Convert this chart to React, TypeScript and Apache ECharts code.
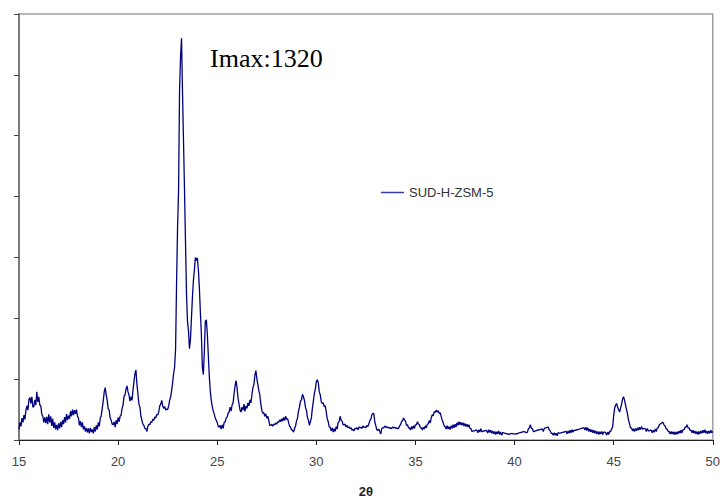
import React, { useEffect, useRef } from "react";
import * as echarts from "echarts";

// Scan settings (2θ start and step of the recorded pattern)
const angleStart = 15;
const angleStep = 0.05;

// Intensity (counts), one row per degree (20 steps of 0.05)
const intensity: number[] = [
  // 15
  35, 58, 45, 72, 58, 82, 68, 98, 112, 98, 132, 140, 120, 142, 108, 110, 132, 115, 158, 125,
  // 16
  142, 115, 112, 85, 78, 58, 74, 55, 76, 52, 84, 58, 78, 46, 70, 40, 58, 35, 50, 32,
  // 17
  55, 38, 60, 42, 65, 52, 75, 58, 85, 65, 80, 70, 95, 78, 100, 82, 98, 86, 100, 78,
  // 18
  72, 48, 62, 42, 58, 35, 45, 28, 40, 25, 38, 22, 40, 26, 35, 22, 42, 28, 48, 35,
  // 19
  58, 45, 72, 80, 104, 128, 158, 172, 148, 130, 102, 98, 72, 65, 52, 50, 60, 42, 65, 52,
  // 20
  74, 60, 78, 82, 104, 115, 144, 148, 168, 178, 158, 148, 128, 142, 130, 164, 192, 218, 230, 182,
  // 21
  152, 118, 108, 78, 65, 52, 48, 38, 37, 28, 45, 52, 50, 60, 58, 68, 65, 76, 72, 84,
  // 22
  82, 92, 112, 118, 130, 112, 104, 110, 98, 102, 100, 112, 130, 142, 162, 188, 218, 240, 300, 520,
  // 23
  700, 820, 1150, 1260, 1320, 1140, 980, 820, 650, 480, 390, 360, 300, 330, 400, 470, 525, 560, 600, 590,
  // 24
  598, 560, 500, 420, 350, 240, 215, 290, 390, 395, 350, 280, 210, 160, 130, 110, 95, 85, 72, 65,
  // 25
  58, 45, 42, 48, 36, 50, 38, 58, 60, 72, 76, 88, 92, 108, 95, 115, 122, 152, 178, 195,
  // 26
  172, 138, 118, 98, 92, 108, 98, 118, 94, 112, 104, 122, 112, 132, 122, 148, 172, 182, 212, 228,
  // 27
  202, 182, 162, 148, 118, 98, 88, 90, 78, 86, 72, 78, 65, 48, 48, 52, 45, 52, 50, 56,
  // 28
  52, 60, 58, 66, 60, 70, 62, 74, 64, 78, 68, 70, 58, 46, 42, 33, 32, 26, 37, 46,
  // 29
  62, 72, 95, 108, 128, 132, 150, 142, 130, 108, 98, 75, 65, 48, 60, 72, 104, 128, 152, 168,
  // 30
  192, 198, 188, 158, 148, 125, 120, 122, 110, 112, 92, 70, 60, 43, 42, 30, 40, 26, 37, 28,
  // 31
  44, 36, 58, 60, 78, 65, 62, 50, 50, 52, 43, 48, 40, 43, 38, 40, 32, 36, 30, 38,
  // 32
  37, 40, 34, 43, 40, 42, 38, 46, 42, 43, 40, 48, 44, 53, 64, 68, 82, 88, 86, 60,
  // 33
  47, 33, 32, 36, 27, 20, 37, 40, 40, 46, 42, 44, 40, 42, 38, 40, 37, 43, 40, 42,
  // 34
  38, 40, 37, 38, 47, 50, 60, 63, 72, 66, 62, 48, 50, 40, 40, 33, 44, 36, 47, 38,
  // 35
  50, 50, 60, 53, 50, 40, 40, 33, 42, 36, 47, 40, 52, 53, 64, 56, 74, 83, 80, 93,
  // 36
  90, 98, 92, 96, 87, 90, 77, 66, 57, 46, 44, 36, 47, 36, 44, 34, 47, 38, 50, 40,
  // 37
  52, 43, 57, 48, 60, 50, 58, 48, 57, 46, 54, 44, 52, 43, 50, 38, 37, 28, 30, 30,
  // 38
  30, 33, 32, 24, 34, 26, 37, 28, 28, 30, 30, 32, 30, 23, 34, 25, 32, 22, 30, 20,
  // 39
  28, 18, 27, 20, 30, 18, 26, 16, 24, 24, 22, 22, 20, 20, 18, 20, 20, 22, 21, 20,
  // 40
  20, 20, 19, 22, 22, 24, 24, 26, 26, 28, 27, 26, 24, 26, 37, 40, 50, 38, 37, 28,
  // 41
  28, 30, 30, 33, 32, 34, 34, 36, 36, 28, 38, 40, 40, 42, 42, 33, 30, 22, 22, 16,
  // 42
  24, 16, 22, 14, 24, 23, 22, 24, 24, 26, 26, 28, 28, 20, 30, 22, 32, 24, 34, 26,
  // 43
  32, 32, 32, 34, 34, 36, 36, 38, 38, 40, 40, 33, 42, 31, 40, 28, 36, 26, 34, 24,
  // 44
  32, 22, 30, 20, 28, 18, 27, 20, 28, 18, 26, 26, 24, 16, 26, 18, 28, 28, 37, 43,
  // 45
  80, 105, 115, 120, 108, 100, 92, 105, 118, 135, 142, 130, 115, 100, 85, 65, 54, 40, 40, 30,
  // 46
  37, 28, 38, 30, 40, 32, 42, 34, 44, 36, 37, 38, 36, 28, 38, 30, 30, 32, 32, 24,
  // 47
  32, 26, 36, 28, 40, 40, 50, 53, 54, 58, 57, 48, 46, 36, 36, 28, 28, 20, 28, 20,
  // 48
  27, 18, 26, 18, 27, 20, 30, 22, 32, 24, 34, 34, 42, 42, 50, 40, 40, 32, 32, 24,
  // 49
  32, 22, 30, 20, 28, 18, 28, 20, 30, 22, 32, 24, 34, 22, 30, 20, 30, 22, 32, 24,
  // 50
  28,
];

const seriesName = "SUD-H-ZSM-5";
const imaxText = "Imax:1320";
const xTitle = "2θ";

export default function App() {
  const ref = useRef<HTMLDivElement>(null);

  useEffect(() => {
    if (!ref.current) return;
    const chart = echarts.init(ref.current, undefined, { renderer: "svg" });
    const data = intensity.map((v, i) => [
      Math.round((angleStart + i * angleStep) * 100) / 100,
      v,
    ]);
    chart.setOption({
      animation: false,
      backgroundColor: "#ffffff",
      title: {
        text: imaxText,
        left: 205,
        top: 40,
        textStyle: {
          fontFamily: "Liberation Serif",
          fontSize: 26,
          fontWeight: "normal",
          color: "#000000",
        },
      },
      legend: {
        data: [seriesName],
        left: 376,
        top: 181,
        icon: "rect",
        itemWidth: 23,
        itemHeight: 1.5,
        itemGap: 5,
        textStyle: {
          fontFamily: "Liberation Sans",
          fontSize: 13,
          color: "#333333",
        },
      },
      grid: {
        left: 19,
        right: 8,
        top: 14,
        bottom: 62,
        show: true,
        borderColor: "#a0a0a0",
        borderWidth: 1.5,
        containLabel: false,
      },
      xAxis: {
        type: "value",
        min: 15,
        max: 50,
        interval: 5,
        name: xTitle,
        nameLocation: "middle",
        nameGap: 45,
        nameTextStyle: {
          fontFamily: "Liberation Sans",
          fontSize: 13,
          fontWeight: "bold",
          color: "#222222",
        },
        axisLine: { show: true, lineStyle: { color: "#222222", width: 1 } },
        axisTick: { show: true, inside: false, length: 5, lineStyle: { color: "#222222" } },
        axisLabel: {
          show: true,
          margin: 15,
          fontFamily: "Liberation Sans",
          fontSize: 13,
          color: "#444444",
        },
        splitLine: { show: false },
      },
      yAxis: {
        type: "value",
        min: 0,
        max: 1400,
        interval: 200,
        axisLine: { show: true, lineStyle: { color: "#666666", width: 1.5 } },
        axisTick: { show: true, inside: false, length: 5, lineStyle: { color: "#444444" } },
        axisLabel: { show: false },
        splitLine: { show: false },
      },
      series: [
        {
          name: seriesName,
          type: "line",
          data,
          showSymbol: false,
          symbol: "none",
          color: "#3a3aa8",
          lineStyle: { color: "#00007f", width: 1.3 },
        },
      ],
    });
    return () => chart.dispose();
  }, []);

  return <div ref={ref} style={{ width: 723, height: 503, position: "absolute", left: 0, top: 0 }} />;
}
